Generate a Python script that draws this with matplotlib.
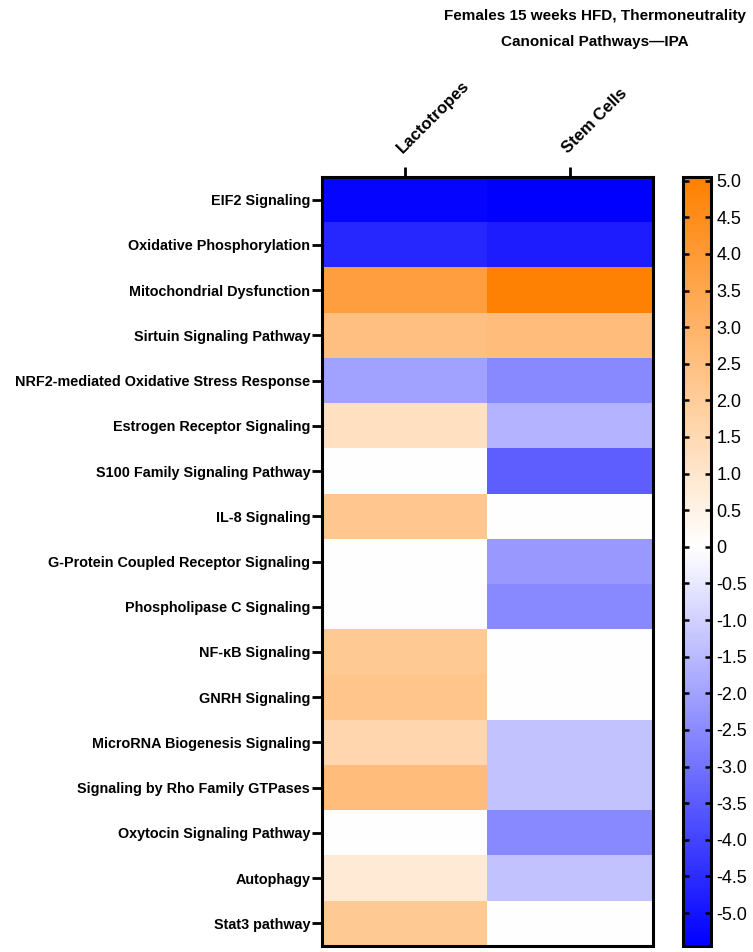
import numpy as np
import matplotlib
matplotlib.use("Agg")
import matplotlib.pyplot as plt
from matplotlib.colors import LinearSegmentedColormap, Normalize

plt.rcParams['font.family'] = ['Liberation Sans', 'DejaVu Sans']

pathways = [
    "EIF2 Signaling",
    "Oxidative Phosphorylation",
    "Mitochondrial Dysfunction",
    "Sirtuin Signaling Pathway",
    "NRF2-mediated Oxidative Stress Response",
    "Estrogen Receptor Signaling",
    "S100 Family Signaling Pathway",
    "IL-8 Signaling",
    "G-Protein Coupled Receptor Signaling",
    "Phospholipase C Signaling",
    "NF-κB Signaling",
    "GNRH Signaling",
    "MicroRNA Biogenesis Signaling",
    "Signaling by Rho Family GTPases",
    "Oxytocin Signaling Pathway",
    "Autophagy",
    "Stat3 pathway",
]
cell_types = ["Lactotropes", "Stem Cells"]

# activation z-scores
lactotropes = [-5.3, -4.6, 3.8, 2.5, -2.0, 1.2, 0.0, 2.2, 0.0, 0.0,
               2.1, 2.3, 1.6, 2.6, 0.0, 0.8, 2.1]
stem_cells = [-5.45, -4.8, 4.95, 2.6, -2.5, -1.6, -3.4, 0.0, -2.2, -2.5,
              0.0, 0.0, -1.3, -1.3, -2.5, -1.3, 0.0]

vmin, vmax = -5.45, 5.05
cbar_ticks = np.arange(-5.0, 5.01, 0.5)

data = np.column_stack([lactotropes, stem_cells])

zero_pos = -vmin / (vmax - vmin)
cmap = LinearSegmentedColormap.from_list(
    "bwo", [(0.0, (0, 0, 1)), (zero_pos, (1, 1, 1)), (1.0, (1, 0.5, 0))])
norm = Normalize(vmin=vmin, vmax=vmax)

fig = plt.figure(figsize=(7.53, 9.52), dpi=100)
ax = fig.add_axes([322 / 753, 1 - 946 / 952, 331 / 753, 769 / 952])
ax.imshow(data, cmap=cmap, norm=norm, aspect='auto', interpolation='nearest')

ax.set_yticks(range(len(pathways)))
ax.set_yticklabels(pathways, fontsize=10.4, fontweight='bold')
ax.set_xticks(range(len(cell_types)))
ax.set_xticklabels(cell_types, fontsize=12, fontweight='bold',
                   rotation=45, ha='left', va='bottom', rotation_mode='anchor')
ax.xaxis.tick_top()
ax.tick_params(axis='both', width=2, length=7, colors='black')
ax.tick_params(axis='y', pad=1.5)
ax.tick_params(axis='x', pad=8)
for s in ax.spines.values():
    s.set_linewidth(2.2)

cax = fig.add_axes([683 / 753, 1 - 946 / 952, 28 / 753, 769 / 952])
cb = fig.colorbar(plt.cm.ScalarMappable(norm=norm, cmap=cmap), cax=cax)
cb.set_ticks(cbar_ticks)
cb.set_ticklabels(["0" if abs(t) < 1e-9 else f"{t:.1f}" for t in cbar_ticks])
cax.tick_params(axis='y', left=True, right=True, direction='in',
                length=4, width=1.8, labelsize=13, pad=4)
cb.outline.set_linewidth(2.2)

fig.text(0.79, 0.991,
         "Females 15 weeks HFD, Thermoneutrality\nCanonical Pathways\u2014IPA",
         ha='center', va='top', fontsize=11, fontweight='bold', linespacing=2.1)

fig.savefig("out.png", dpi=100)
